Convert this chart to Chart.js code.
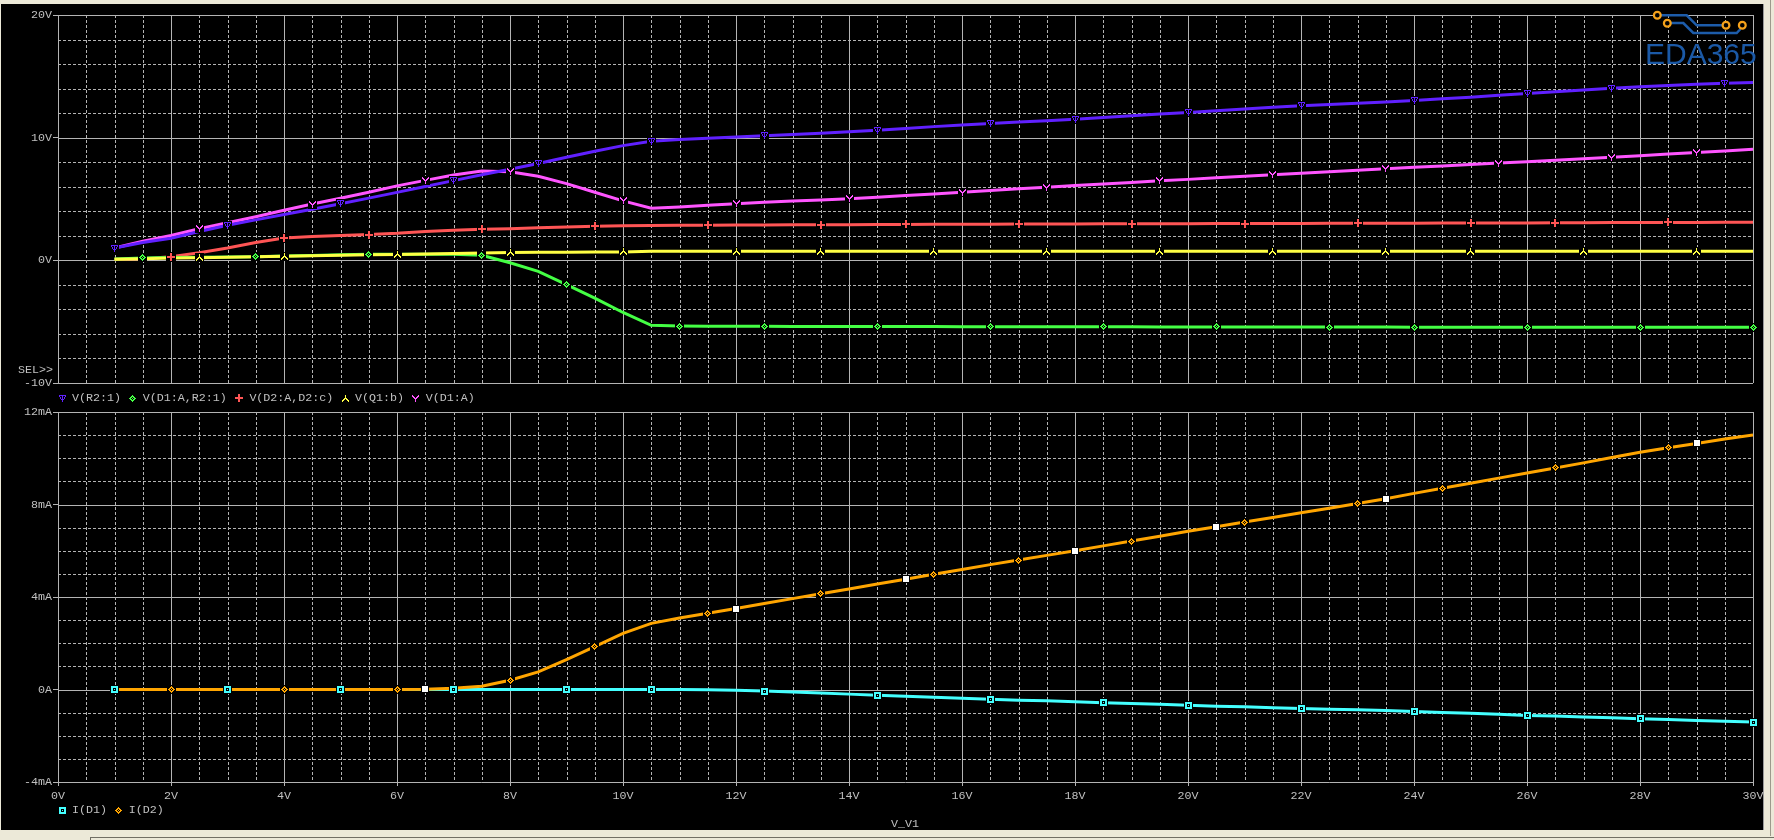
<!DOCTYPE html>
<html>
<head>
<meta charset="utf-8">
<title>V_V1 sweep</title>
<script src="https://cdn.jsdelivr.net/npm/chart.js@4.4.1/dist/chart.umd.min.js"></script>
<style>
  html, body { margin: 0; padding: 0; }
  body {
    width: 1774px; height: 840px; overflow: hidden; position: relative;
    background: #ece9d8;
    font-family: "Liberation Mono", "DejaVu Sans Mono", monospace;
    font-size: 11.67px; color: #c0c0c0;
  }
  #panel { position: absolute; left: 1px; top: 4px; width: 1762px; height: 826px; background: #000; border-right: 1px solid #9a9a9a; }
  #status { position: absolute; left: 90px; top: 837px; width: 1684px; height: 3px; border-top: 1px solid #716f64; border-left: 1px solid #716f64; }
  #rightEdge { position: absolute; left: 1770px; top: 0; width: 1px; height: 836px; background: #9d9a8c; }
  .plot { position: absolute; left: 0; }
  #topChart { top: 0; }
  #botChart { top: 400px; }
  .legend { position: absolute; left: 57.5px; height: 14px; display: flex; align-items: center; white-space: pre; line-height: 14px; }
  .legend .item { display: flex; align-items: center; }
  .legend canvas { margin-right: 5.5px; flex: none; }
  .legend .name { display: inline-block; margin-right: 7.2px; overflow: visible; }
  #sel { position: absolute; right: 1721px; top: 363px; line-height: 14px; }
  #xtitle { position: absolute; left: 870px; width: 70px; text-align: center; top: 817px; line-height: 14px; }
  #logoText { position: absolute; left: 1645px; top: 39px; font: 30px "Liberation Sans", Arial, sans-serif; line-height: 30px; color: #1b59a6; }
  #logoArt { position: absolute; left: 1640px; top: 0; }
</style>
</head>
<body>
<div id="panel"></div>
<div id="rightEdge"></div>
<div id="status"></div>
<canvas id="topChart" class="plot" width="1774" height="392"></canvas>
<canvas id="botChart" class="plot" width="1774" height="440"></canvas>
<div id="sel">SEL&gt;&gt;</div>
<div id="topLegend" class="legend" style="top:391px"></div>
<div id="botLegend" class="legend" style="top:803px"></div>
<div id="xtitle">V_V1</div>
<svg id="logoArt" width="134" height="40" viewBox="0 0 134 40">
  <g fill="none" stroke="#1d5caa" stroke-width="2.5">
    <polyline points="21,15.3 46.7,15.3 56.7,25.3 82,25.3"/>
    <polyline points="31,23 43.3,23 53.3,33 96.7,33 100.5,29"/>
  </g>
  <g fill="#000" stroke="#f5a21b" stroke-width="2.2">
    <circle cx="17.3" cy="15.3" r="3.4"/>
    <circle cx="27.3" cy="23.3" r="3.4"/>
    <circle cx="86" cy="25.3" r="3.4"/>
    <circle cx="102.3" cy="25.3" r="3.4"/>
  </g>
</svg>
<div id="logoText">EDA365</div>

<script>
// sweep of V_V1 (volts)
const sweep = [1,1.5,2,2.5,3,3.5,4,4.5,5,5.5,6,6.5,7,7.5,8,8.5,9,9.5,10,10.5,11,11.5,12,12.5,13,13.5,14,14.5,15,15.5,16,16.5,17,17.5,18,18.5,19,19.5,20,20.5,21,21.5,22,22.5,23,23.5,24,24.5,25,25.5,26,26.5,27,27.5,28,28.5,29,29.5,30];

// top plot, volts
const vR2 = [1.00,1.45,1.80,2.35,2.86,3.30,3.73,4.17,4.61,5.07,5.54,6.02,6.50,6.97,7.42,7.90,8.40,8.90,9.35,9.70,9.85,9.95,10.05,10.15,10.25,10.37,10.48,10.60,10.75,10.90,11.04,11.15,11.27,11.38,11.50,11.65,11.78,11.92,12.06,12.20,12.33,12.47,12.60,12.70,12.80,12.90,13.02,13.17,13.30,13.45,13.60,13.74,13.88,14.02,14.15,14.25,14.35,14.43,14.50];
const vD1R2 = [0.10,0.20,0.23,0.26,0.28,0.30,0.35,0.40,0.45,0.49,0.50,0.50,0.50,0.42,-0.20,-0.90,-1.98,-3.08,-4.25,-5.30,-5.36,-5.37,-5.38,-5.38,-5.39,-5.39,-5.39,-5.40,-5.40,-5.40,-5.41,-5.41,-5.41,-5.42,-5.42,-5.42,-5.42,-5.43,-5.43,-5.43,-5.43,-5.44,-5.44,-5.44,-5.44,-5.44,-5.45,-5.45,-5.45,-5.45,-5.45,-5.45,-5.46,-5.46,-5.46,-5.46,-5.46,-5.46,-5.46];
const vD2 = [0.08,0.12,0.30,0.62,1.00,1.45,1.82,1.95,2.03,2.10,2.20,2.36,2.46,2.53,2.58,2.65,2.71,2.78,2.82,2.84,2.86,2.87,2.88,2.89,2.90,2.90,2.91,2.92,2.93,2.94,2.95,2.95,2.96,2.97,2.97,2.98,2.98,2.99,2.99,3.00,3.00,3.01,3.01,3.02,3.02,3.03,3.03,3.04,3.04,3.05,3.05,3.06,3.07,3.08,3.08,3.09,3.09,3.10,3.10];
const vQ1b = [0.08,0.12,0.18,0.22,0.26,0.29,0.33,0.38,0.42,0.45,0.48,0.52,0.56,0.60,0.64,0.65,0.66,0.67,0.68,0.74,0.75,0.75,0.75,0.75,0.75,0.75,0.75,0.75,0.75,0.75,0.75,0.75,0.75,0.75,0.75,0.75,0.75,0.75,0.75,0.75,0.75,0.75,0.75,0.75,0.75,0.75,0.75,0.75,0.75,0.75,0.75,0.75,0.75,0.75,0.75,0.75,0.75,0.75,0.74];
const vD1A = [1.00,1.55,2.02,2.58,3.07,3.56,4.08,4.59,5.06,5.55,6.07,6.52,6.95,7.28,7.22,6.85,6.25,5.55,4.85,4.25,4.35,4.50,4.62,4.74,4.84,4.92,5.02,5.15,5.28,5.41,5.55,5.69,5.83,5.96,6.10,6.23,6.35,6.48,6.60,6.73,6.85,6.98,7.10,7.22,7.34,7.46,7.58,7.70,7.81,7.93,8.04,8.16,8.28,8.41,8.53,8.66,8.79,8.92,9.05];

// bottom plot, mA
const iD1 = [0,0,0,0,0,0,0,0,0,0,0,0,0,0,0,0,0,0,0,0,0,-0.01,-0.03,-0.07,-0.11,-0.15,-0.20,-0.25,-0.29,-0.34,-0.38,-0.42,-0.46,-0.49,-0.53,-0.57,-0.61,-0.64,-0.68,-0.72,-0.75,-0.79,-0.82,-0.85,-0.88,-0.91,-0.95,-0.99,-1.03,-1.07,-1.12,-1.15,-1.19,-1.22,-1.26,-1.30,-1.34,-1.37,-1.41];
const iD2 = [0,0,0,0,0,0,0,0,0,0,0,0.01,0.05,0.14,0.40,0.76,1.29,1.85,2.43,2.86,3.09,3.30,3.50,3.72,3.93,4.14,4.35,4.56,4.77,4.98,5.19,5.40,5.60,5.80,6.00,6.21,6.42,6.63,6.84,7.04,7.24,7.44,7.64,7.84,8.04,8.25,8.48,8.70,8.92,9.14,9.36,9.58,9.80,10.03,10.26,10.45,10.64,10.83,11.01];

// where the probe draws its trace symbols (sweep values)
const mkR2 = [1,3,5,7,8.5,10.5,12.5,14.5,16.5,18,20,22,24,26,27.5,29.5];
const mkD1R2 = [1.5,3.5,5.5,7.5,9,11,12.5,14.5,16.5,18.5,20.5,22.5,24,26,28,30];
const mkD2 = [2,4,5.5,7.5,9.5,11.5,13.5,15,17,19,21,23,25,26.5,28.5];
const mkQ1b = [2.5,4,6,8,10,12,13.5,15.5,17.5,19.5,21.5,23.5,25,27,29];
const mkD1A = [2.5,4.5,6.5,8,10,12,14,16,17.5,19.5,21.5,23.5,25.5,27.5,29];
const mkID1 = [1,3,5,7,9,10.5,12.5,14.5,16.5,18.5,20,22,24,26,28,30];
const mkID2 = [2,4,6,8,9.5,11.5,13.5,15.5,17,19,21,23,24.5,26.5,28.5];
const mkCursor = [4,6.5,9.5,12,15,18,20.5,23.5,26.5,29];

const GRID = '#b4b4b4';
const TEXT = '#c0c0c0';
const MONO = { family: '"Liberation Mono", "DejaVu Sans Mono", monospace', size: 11.67 };
const CHAR_W = 7; // one cell of the fixed-width probe font

// little bitmap symbols like the probe window uses
const GLYPHS = {
  tri:     ["XXXXXXX","X..X..X",".X.X.X.",".X.X.X.","..XXX..","...X...","...X..."],
  diamond: ["...X...","..XXX..",".XX.XX.","XX.X.XX",".XX.XX.","..XXX..","...X..."],
  plus:    ["...XX...","...XX...","...XX...","XXXXXXXX","XXXXXXXX","...XX...","...XX...","...XX..."],
  lambda:  ["...X...","...X...","...X...","..XXX..",".XX.XX.","XX...XX","X.....X"],
  wye:     ["X.....X","XX...XX",".XX.XX.","..XXX..","...X...","...X...","...X..."],
  square:  ["XXXXXXX","XXXXXXX","XX...XX","XX.X.XX","XX...XX","XXXXXXX","XXXXXXX"],
  block:   ["XXXXXX","XXXXXX","XXXXXX","XXXXXX","XXXXXX","XXXXXX"]
};

function glyph(rows, color, pad) {
  const c = document.createElement('canvas');
  c.width = rows[0].length + pad * 2;
  c.height = rows.length + pad * 2;
  const g = c.getContext('2d');
  g.fillStyle = '#000';
  g.fillRect(0, 0, c.width, c.height);
  g.fillStyle = color;
  rows.forEach((r, j) => {
    for (let i = 0; i < r.length; i++) if (r[i] === 'X') g.fillRect(i + pad, j + pad, 1, 1);
  });
  return c;
}

const toXY = (ys) => sweep.map((v, i) => ({ x: v, y: ys[i] }));
const marks = (ys, xs) => xs.map(v => ({ x: v, y: ys[sweep.indexOf(v)] }));

// solid major / dashed minor grid, drawn from the chart's own scales
const scopeGrid = {
  id: 'scopeGrid',
  beforeDraw(chart) { chart.ctx.imageSmoothingEnabled = false; },
  beforeDatasetsDraw(chart, args, opts) {
    const { ctx, chartArea: a, scales: { x, y } } = chart;
    const isMajor = (v, m) => Math.abs(v / m - Math.round(v / m)) < 1e-6;
    ctx.save();
    ctx.lineWidth = 1;
    ctx.strokeStyle = GRID;
    const seg = (x1, y1, x2, y2, dashed) => {
      ctx.setLineDash(dashed ? [3, 2] : []);
      ctx.beginPath(); ctx.moveTo(x1, y1); ctx.lineTo(x2, y2); ctx.stroke();
    };
    [true, false].forEach(minorPass => {
      for (let v = x.min; v <= x.max + 1e-9; v += opts.xStep) {
        if (isMajor(v, opts.xMajor) === minorPass) continue;
        const px = Math.round(x.getPixelForValue(v)) + 0.5;
        seg(px, a.top, px, a.bottom, minorPass);
      }
      for (let v = y.min; v <= y.max + 1e-9; v += opts.yStep) {
        if (isMajor(v, opts.yMajor) === minorPass) continue;
        const py = Math.round(y.getPixelForValue(v)) + 0.5;
        seg(a.left, py, a.right, py, minorPass);
      }
    });
    ctx.restore();
  }
};

function buildSets(traces) {
  const sets = [];
  traces.forEach(t => {
    sets.push({
      data: toXY(t.ys), borderColor: t.color, borderWidth: 3, pointRadius: 0,
      tension: 0, order: t.order, borderCapStyle: 'butt'
    });
    sets.push({
      data: marks(t.ys, t.mk), showLine: false, pointRadius: 4,
      pointStyle: glyph(t.glyph, t.color, 1), order: 0, clip: false
    });
  });
  return sets;
}

function yAxis(min, max, step, fmt) {
  return {
    min, max,
    afterFit: s => { s.width = 58; },
    ticks: { stepSize: step, callback: fmt, color: TEXT, font: MONO, padding: 1 },
    grid: { drawOnChartArea: false, drawTicks: true, tickLength: 5, color: GRID },
    border: { display: false }
  };
}

const topTraces = [
  { name: 'V(R2:1)', ys: vR2, mk: mkR2, color: '#6020ff', glyph: GLYPHS.tri, order: 2 },
  { name: 'V(D1:A,R2:1)', ys: vD1R2, mk: mkD1R2, color: '#44ff44', glyph: GLYPHS.diamond, order: 3 },
  { name: 'V(D2:A,D2:c)', ys: vD2, mk: mkD2, color: '#ff5555', glyph: GLYPHS.plus, order: 3 },
  { name: 'V(Q1:b)', ys: vQ1b, mk: mkQ1b, color: '#ffff44', glyph: GLYPHS.lambda, order: 1 },
  { name: 'V(D1:A)', ys: vD1A, mk: mkD1A, color: '#ff55ff', glyph: GLYPHS.wye, order: 2 }
];
const botTraces = [
  { name: 'I(D1)', ys: iD1, mk: mkID1, color: '#44ffff', glyph: GLYPHS.square, order: 2 },
  { name: 'I(D2)', ys: iD2, mk: mkID2, color: '#ffa500', glyph: GLYPHS.diamond, order: 1 }
];

new Chart(document.getElementById('topChart'), {
  type: 'line',
  data: { datasets: buildSets(topTraces) },
  options: {
    responsive: false, animation: false, devicePixelRatio: 1,
    layout: { padding: { top: 15, right: 21, bottom: 9, left: 0 } },
    plugins: {
      legend: { display: false }, tooltip: { enabled: false },
      scopeGrid: { xStep: 0.5, xMajor: 2, yStep: 2, yMajor: 10 }
    },
    scales: {
      x: { type: 'linear', min: 0, max: 30, display: false },
      y: yAxis(-10, 20, 10, v => v + 'V')
    }
  },
  plugins: [scopeGrid]
});

const botSets = buildSets(botTraces);
// white cursor squares riding on I(D2)
botSets.push({
  data: marks(iD2, mkCursor), showLine: false, pointRadius: 4,
  pointStyle: glyph(GLYPHS.block, '#ffffff', 1), order: 0, clip: false
});

new Chart(document.getElementById('botChart'), {
  type: 'line',
  data: { datasets: botSets },
  options: {
    responsive: false, animation: false, devicePixelRatio: 1,
    layout: { padding: { top: 12, right: 21, bottom: 28, left: 0 } },
    plugins: {
      legend: { display: false }, tooltip: { enabled: false },
      scopeGrid: { xStep: 0.5, xMajor: 2, yStep: 1, yMajor: 4 }
    },
    scales: {
      x: {
        type: 'linear', min: 0, max: 30,
        afterFit: s => { s.height = 30; },
        ticks: { stepSize: 2, autoSkip: false, maxRotation: 0, callback: v => v + 'V', color: TEXT, font: MONO, padding: 3 },
        grid: { drawOnChartArea: false, drawTicks: true, tickLength: 4, color: GRID },
        border: { display: false }
      },
      y: yAxis(-4, 12, 4, v => v === 0 ? '0A' : v + 'mA')
    }
  },
  plugins: [scopeGrid]
});

// legends under each plot, one fixed-width cell per character
function fillLegend(id, traces) {
  const box = document.getElementById(id);
  traces.forEach(t => {
    const item = document.createElement('span');
    item.className = 'item';
    item.appendChild(glyph(t.glyph, t.color, 1));
    const label = document.createElement('span');
    label.className = 'name';
    label.style.width = (t.name.length * CHAR_W) + 'px';
    label.textContent = t.name;
    item.appendChild(label);
    box.appendChild(item);
  });
}
fillLegend('topLegend', topTraces);
fillLegend('botLegend', botTraces);
</script>
</body>
</html>
